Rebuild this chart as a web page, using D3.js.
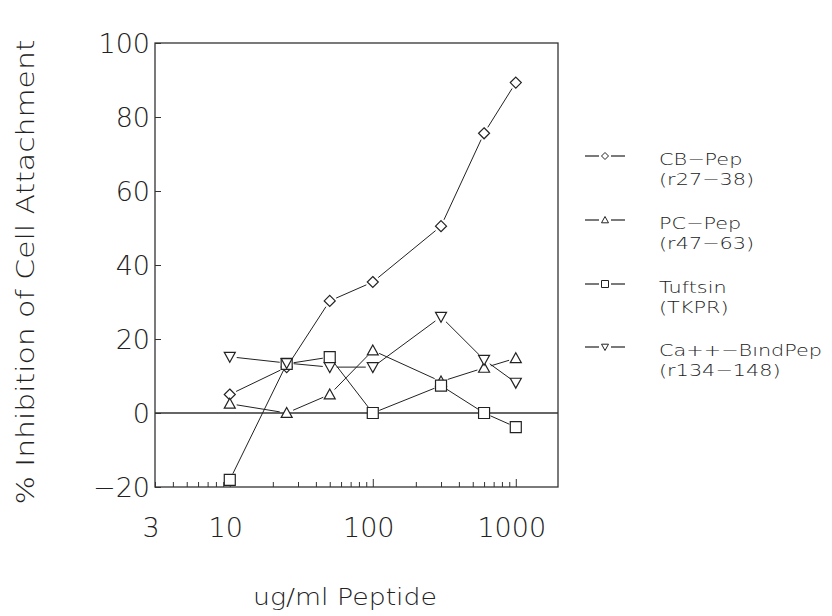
<!DOCTYPE html>
<html><head><meta charset="utf-8">
<script src="https://cdn.jsdelivr.net/npm/d3@7"></script>
<style>
body{margin:0;background:#fff;}
text{font-family:"DejaVu Sans",sans-serif;font-weight:200;fill:#222;}
</style></head>
<body><svg id="c" width="832" height="616"></svg>
<script>
const doses = [10, 25, 50, 100, 300, 600, 1000];
const cbPep = [5, 12.4, 30.3, 35.4, 50.5, 75.6, 89.3];
const pcPep = [2.5, 0, 5, 16.9, 8.5, 12.2, 14.8];
const tuftsin = [-18.1, 13.3, 15.1, 0, 7.4, 0, -3.8];
const caPep = [15.2, 13.5, 12.4, 12.4, 26, 14.4, 8.2];
const seriesNames = [["CB\u2212Pep","(r27\u221238)"],["PC\u2212Pep","(r47\u221263)"],["Tuftsin","(TKPR)"],["Ca++\u2212B\u0131ndPep","(r134\u2212148)"]];
const yTicks = [-20, 0, 20, 40, 60, 80, 100];
const xTicks = [3, 10, 100, 1000];

const svg = d3.select("#c");
const L=155, R=558, T=43, B=487;
const x = d3.scaleLog().domain([3, 1973]).range([L, R]);
const y = d3.scaleLinear().domain([-20, 100]).range([B, T]);

const series = [
  {vals: cbPep, sym: "diamond"},
  {vals: pcPep, sym: "up"},
  {vals: tuftsin, sym: "square"},
  {vals: caPep, sym: "down"}
];

// frame
svg.append("rect").attr("x",L).attr("y",T).attr("width",R-L).attr("height",B-T)
  .attr("fill","none").attr("stroke","#333").attr("stroke-width",1.3);
// zero line
svg.append("line").attr("x1",L).attr("x2",R).attr("y1",y(0)).attr("y2",y(0)).attr("stroke","#333").attr("stroke-width",1.3);

// y axis ticks inward
const yAx = svg.append("g").attr("transform",`translate(${L},0)`)
  .call(d3.axisLeft(y).tickValues(yTicks).tickSize(-6).tickFormat(""));
yAx.select(".domain").remove();
yAx.selectAll("line").attr("stroke","#333");
svg.selectAll(".ylab").data(yTicks).enter().append("text")
  .attr("x",150).attr("y",d=>y(d)+10).attr("text-anchor","end").attr("font-size",27)
  .text(d=>d<0?"\u2212"+Math.abs(d):d);

// x axis ticks inward
const minor = [];
[1,10,100].forEach(m=>{for(let k=2;k<=9;k++){const v=k*m; if(v>=3 && v<=1973) minor.push(v);} });
const xAx = svg.append("g").attr("transform",`translate(0,${B})`)
  .call(d3.axisBottom(x).tickValues(minor).tickSize(-5).tickFormat(""));
xAx.select(".domain").remove();
xAx.selectAll("line").attr("stroke","#333");
const xAx2 = svg.append("g").attr("transform",`translate(0,${B})`)
  .call(d3.axisBottom(x).tickValues([10,100,1000]).tickSize(-8).tickFormat(""));
xAx2.select(".domain").remove();
xAx2.selectAll("line").attr("stroke","#333");
svg.selectAll(".xlab").data(xTicks).enter().append("text")
  .attr("x",d=>x(d)-4).attr("y",537).attr("text-anchor","middle").attr("font-size",27)
  .text(d=>d);

// titles
svg.append("text").attr("x",345).attr("y",605).attr("text-anchor","middle").attr("font-size",23)
  .attr("textLength",184).attr("lengthAdjust","spacingAndGlyphs").text("ug/ml  Peptide");
svg.append("text").attr("transform","translate(34,272) rotate(-90)").attr("text-anchor","middle").attr("font-size",24)
  .attr("textLength",465).attr("lengthAdjust","spacingAndGlyphs")
  .text("%  Inhibition  of  Cell  Attachment");

function symPath(sym, s){
  const h=s/2;
  if(sym==="diamond") return `M0,${-h}L${h},0L0,${h}L${-h},0Z`;
  if(sym==="square") return `M${-h},${-h}H${h}V${h}H${-h}Z`;
  if(sym==="up") return `M0,${-h}L${h},${h*0.8}L${-h},${h*0.8}Z`;
  return `M0,${h}L${h},${-h*0.8}L${-h},${-h*0.8}Z`;
}
const sizes = {diamond:11, square:11, up:11, down:11};

series.forEach(s=>{
  const pts = doses.map((d,i)=>[x(d), y(s.vals[i])]);
  for(let i=0;i<pts.length-1;i++){
    const [x1,y1]=pts[i],[x2,y2]=pts[i+1];
    const dx=x2-x1, dy=y2-y1, len=Math.hypot(dx,dy), g=7;
    if(len<2*g) continue;
    svg.append("line").attr("x1",x1+dx/len*g).attr("y1",y1+dy/len*g)
      .attr("x2",x2-dx/len*g).attr("y2",y2-dy/len*g).attr("stroke","#222").attr("stroke-width",1);
  }
  svg.selectAll(null).data(pts).enter().append("path")
    .attr("transform",d=>`translate(${d[0]},${d[1]})`)
    .attr("d",symPath(s.sym,sizes[s.sym])).attr("fill","#fff").attr("stroke","#222").attr("stroke-width",1.2);
});

// legend
const legY = [165, 229, 293, 356];
series.forEach((s,i)=>{
  const cy = legY[i]-9;
  svg.append("line").attr("x1",585).attr("x2",599).attr("y1",cy).attr("y2",cy).attr("stroke","#222").attr("stroke-width",1.2);
  svg.append("line").attr("x1",611).attr("x2",625).attr("y1",cy).attr("y2",cy).attr("stroke","#222").attr("stroke-width",1.2);
  svg.append("path").attr("transform",`translate(605,${cy})`).attr("d",symPath(s.sym,7))
    .attr("fill","#fff").attr("stroke","#222").attr("stroke-width",1);
  [0,1].forEach(j=>{
    svg.append("text").attr("transform",`translate(659,${legY[i]+j*20}) scale(1.3,1)`)
      .attr("font-size",16).attr("fill","#333").text(seriesNames[i][j]);
  });
});
</script></body></html>
